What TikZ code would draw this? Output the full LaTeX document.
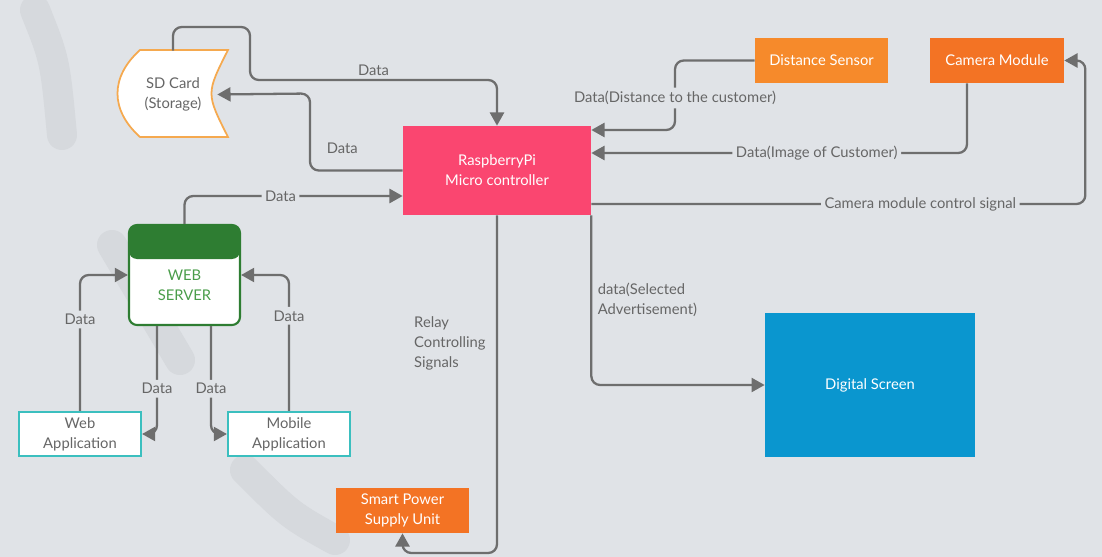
\documentclass[tikz,border=0pt]{standalone}
\usepackage{fontspec}
\setmainfont{Lato}
\usetikzlibrary{arrows.meta}

\definecolor{bgcol}{HTML}{E0E3E7}
\definecolor{swoosh}{HTML}{D6D9DD}
\definecolor{linecol}{HTML}{6E6E6E}
\definecolor{txtcol}{HTML}{666666}
\definecolor{rpicol}{HTML}{FA4670}
\definecolor{distcol}{HTML}{F68A2B}
\definecolor{camcol}{HTML}{F37324}
\definecolor{screencol}{HTML}{0A96CF}
\definecolor{srvgreen}{HTML}{2E7D32}
\definecolor{srvtext}{HTML}{4A9D4A}
\definecolor{appcol}{HTML}{3BBFBF}
\definecolor{sdcol}{HTML}{F5A94F}

\tikzset{
  link/.style={draw=linecol, line width=1.3pt, rounded corners=5pt, ->},
  inl/.style={fill=bgcol, text=txtcol, inner sep=2pt},
  side/.style={text=txtcol, align=left, inner sep=3pt}
}

\begin{document}
\begin{tikzpicture}[x=0.02cm, y=-0.02cm, >={Triangle[length=7.5pt,width=8pt]},
    font=\fontsize{8.4}{11.5}\selectfont]
    \fill[bgcol] (0,0) rectangle (1102,557);
    \useasboundingbox (0,0) rectangle (1102,557);
    % background strokes
    \draw[swoosh, line width=0.6cm, line cap=round] (35,10) .. controls (55,60) .. (62,135);
    \draw[swoosh, line width=0.6cm, line cap=round] (112,245) -- (180,360);
    \draw[swoosh, line width=0.6cm, line cap=round] (245,470) .. controls (290,515) .. (335,540);

    % sd card shape
    \filldraw[fill=white, draw=sdcol, line width=1pt] (140,50) -- (228,50) .. controls (206,93.5) .. (228,137)
        -- (140,137) .. controls (110,110) and (110,77) .. (140,50) -- cycle;
    \node[text=txtcol, align=center, minimum width=2.2cm, minimum height=1.74cm] (sd) at (173,94.5) {SD Card\\(Storage)};

    \begin{scope}[every node/.style={rectangle, text=white, align=center, inner sep=2pt}]
        \node[fill=rpicol, minimum width=3.76cm, minimum height=1.78cm] (rpi) at (497,170.5) {RaspberryPi\\Micro controller};
        \node[fill=distcol, minimum width=2.66cm, minimum height=0.9cm] (dist) at (821.5,60.5) {Distance Sensor};
        \node[fill=camcol, minimum width=2.68cm, minimum height=0.9cm] (cam) at (997,60.5) {Camera Module};
        \node[fill=camcol, minimum width=2.66cm, minimum height=0.9cm] (spsu) at (402.5,510.5) {Smart Power\\Supply Unit};
        \node[fill=screencol, minimum width=4.2cm, minimum height=2.88cm] (screen) at (870,385) {Digital Screen};
    \end{scope}

    \begin{scope}[every node/.style={rectangle, text=txtcol, align=center, fill=white, draw=appcol, line width=1.2pt, inner sep=2pt}]
        \node[minimum width=2.44cm, minimum height=0.88cm] (webapp) at (80,434) {Web\\Application};
        \node[minimum width=2.44cm, minimum height=0.88cm] (mobapp) at (289,434) {Mobile\\Application};
    \end{scope}

    \node[fill=white, draw=srvgreen, line width=1.2pt, rounded corners=0.16cm,
          minimum width=2.22cm, minimum height=2cm,
          path picture={\fill[srvgreen] (path picture bounding box.north west) rectangle ([yshift=-0.68cm]path picture bounding box.north east);}]
          (websrv) at (184.5,275) {};
    \node[text=srvtext, align=center] (websrvtxt) at (184.5,285) {WEB\\SERVER};

    % connectors
    \draw[link] (sd.north) |- (250,27) -- (250,80) -- node[above, text=txtcol, inner sep=2pt] (lsdin) {Data} (497,80) -- (rpi.north);
    \draw[link] (rpi.west) -- node[above=9pt, xshift=-0.28cm, text=txtcol, inner sep=0pt] (lsdout) {Data} (310,170.5) -- (310,93.5) -- ([xshift=-0.22cm]sd.east);
    \draw[link] (websrv.north) |- node[inl, pos=0.72] (lsrv) {Data} (rpi.west |- 0,196);
    \draw[link] (dist.west) -| node[inl, pos=0.77] (ldist) {Data(Distance to the customer)} (675,130) -- (rpi.east |- 0,130);
    \draw[link] ([xshift=-0.6cm]cam.south) |- node[inl, pos=0.70] (lcam) {Data(Image of Customer)} (rpi.east |- 0,153);
    \draw[link] (rpi.east |- 0,204) -| node[inl, pos=0.333] (lctrl) {Camera module control signal} ([xshift=0.42cm]cam.east) -- (cam.east);
    \draw[link] (rpi.south east) |- node[side, right, pos=0.25] (lads) {data(Selected\\Advertisement)} (screen.west);
    \draw[link] (rpi.south) -- node[side, left, pos=0.38, xshift=-0.1cm] (lrelay) {Relay\\Controlling\\Signals} (497,553) -| (spsu.south);
    \draw[link] (webapp.north) |- node[inl, pos=0.336] (lwa) {Data} (websrv.west);
    \draw[link] ([xshift=-0.55cm]websrv.south) |- node[inl, pos=0.29] (lwb) {Data} (webapp.east);
    \draw[link] ([xshift=0.53cm]websrv.south) |- node[inl, pos=0.29] (lma) {Data} (mobapp.west);
    \draw[link] (mobapp.north) |- node[inl, pos=0.35] (lmb) {Data} (websrv.east);
\end{tikzpicture}
\end{document}
